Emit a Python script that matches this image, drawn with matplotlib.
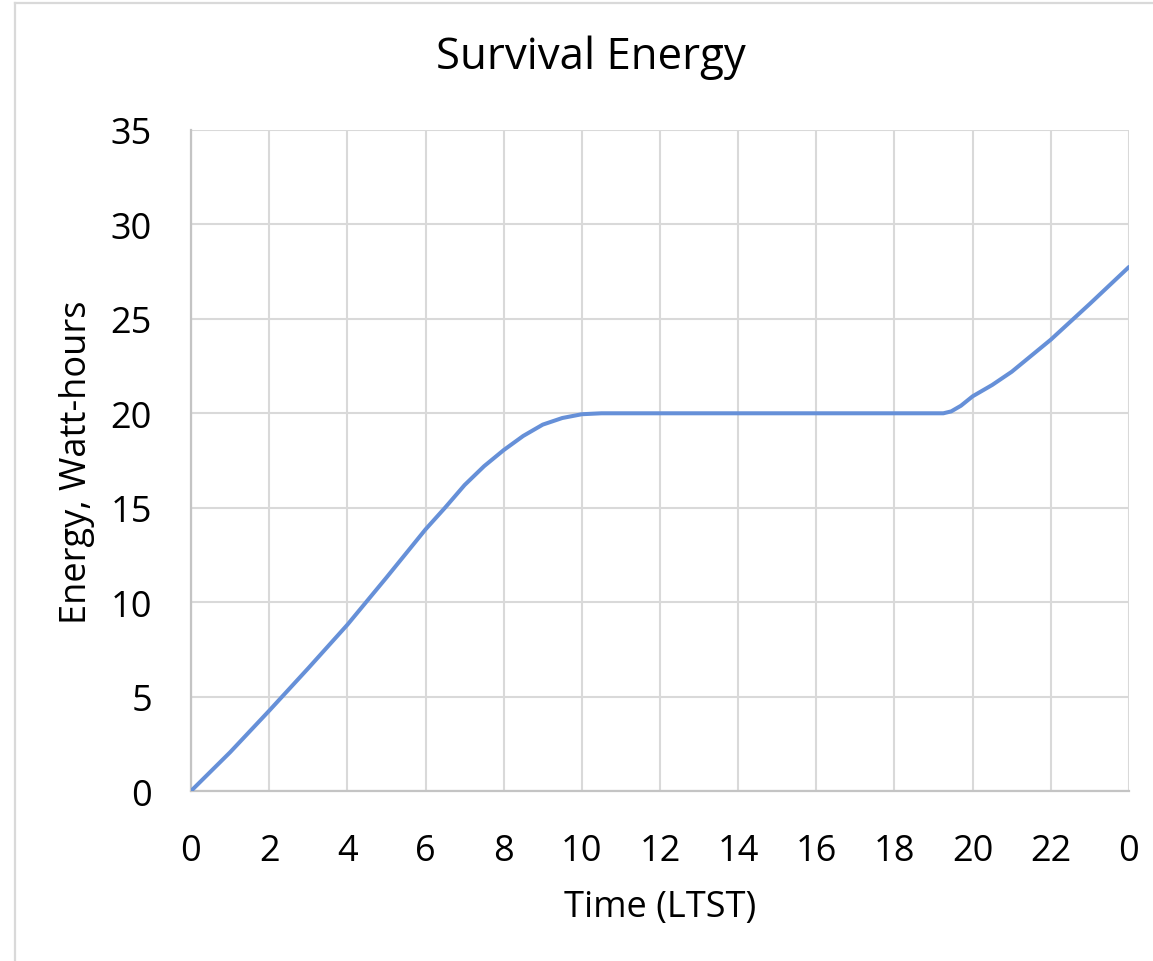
import matplotlib
matplotlib.use("Agg")
import matplotlib.pyplot as plt
from matplotlib.lines import Line2D

plt.rcParams['font.family'] = ['Open Sans', 'DejaVu Sans']

# Data (hours LTST, energy in Wh)
time_h = [0, 1, 2, 3, 4, 5, 6, 6.5, 7, 7.5, 8, 8.5, 9, 9.5, 10, 10.5,
          12, 14, 16, 18, 19.25, 19.45, 19.7, 20, 20.5, 21, 22, 23, 24]
energy_wh = [0, 2.05, 4.25, 6.5, 8.8, 11.3, 13.85, 15.0, 16.2, 17.2, 18.05, 18.8,
             19.4, 19.75, 19.95, 20, 20, 20, 20, 20, 20, 20.1, 20.4, 20.9, 21.5,
             22.2, 23.9, 25.8, 27.75]
x_ticks = list(range(0, 25, 2))
x_tick_labels = ['0', '2', '4', '6', '8', '10', '12', '14', '16', '18', '20', '22', '0']
y_ticks = list(range(0, 36, 5))

W, H = 1153, 962
fig = plt.figure(figsize=(W / 100, H / 100), dpi=100)
ax = fig.add_axes([191 / W, 1 - 792 / H, (1129 - 191) / W, (792 - 131) / H])

ax.plot(time_h, energy_wh, color='#6690D8', lw=2.9, solid_capstyle='round',
        solid_joinstyle='round', zorder=3)

ax.set_xlim(0, 24)
ax.set_ylim(0, 35)
ax.set_xticks(x_ticks)
ax.set_xticklabels(x_tick_labels)
ax.set_yticks(y_ticks)
ax.grid(True, color='#d9d9d9', lw=1.5)
ax.set_axisbelow(True)
for s in ['top', 'right']:
    ax.spines[s].set_visible(False)
for s in ['left', 'bottom']:
    ax.spines[s].set_color('#c4c4c4')
    ax.spines[s].set_linewidth(1.6)
ax.tick_params(axis='both', length=0, labelsize=26, colors='black')
ax.tick_params(axis='x', pad=30)
ax.tick_params(axis='y', pad=28)

fig.text(591 / W, 1 - 58 / H, 'Survival Energy', ha='center', va='center', fontsize=31.5)
fig.text(660 / W, 1 - 908 / H, 'Time (LTST)', ha='center', va='center', fontsize=26)
fig.text(77 / W, 1 - 462 / H, 'Energy, Watt-hours', ha='center', va='center',
         rotation=90, fontsize=26)

# chart-area border (left and top visible)
fig.add_artist(Line2D([15 / W, 15 / W], [0, 1 - 4 / H], transform=fig.transFigure,
                      color='#d9d9d9', lw=1.6))
fig.add_artist(Line2D([15 / W, 1], [1 - 4 / H, 1 - 4 / H], transform=fig.transFigure,
                      color='#d9d9d9', lw=1.6))

fig.savefig('out.png', dpi=100, facecolor='white')
